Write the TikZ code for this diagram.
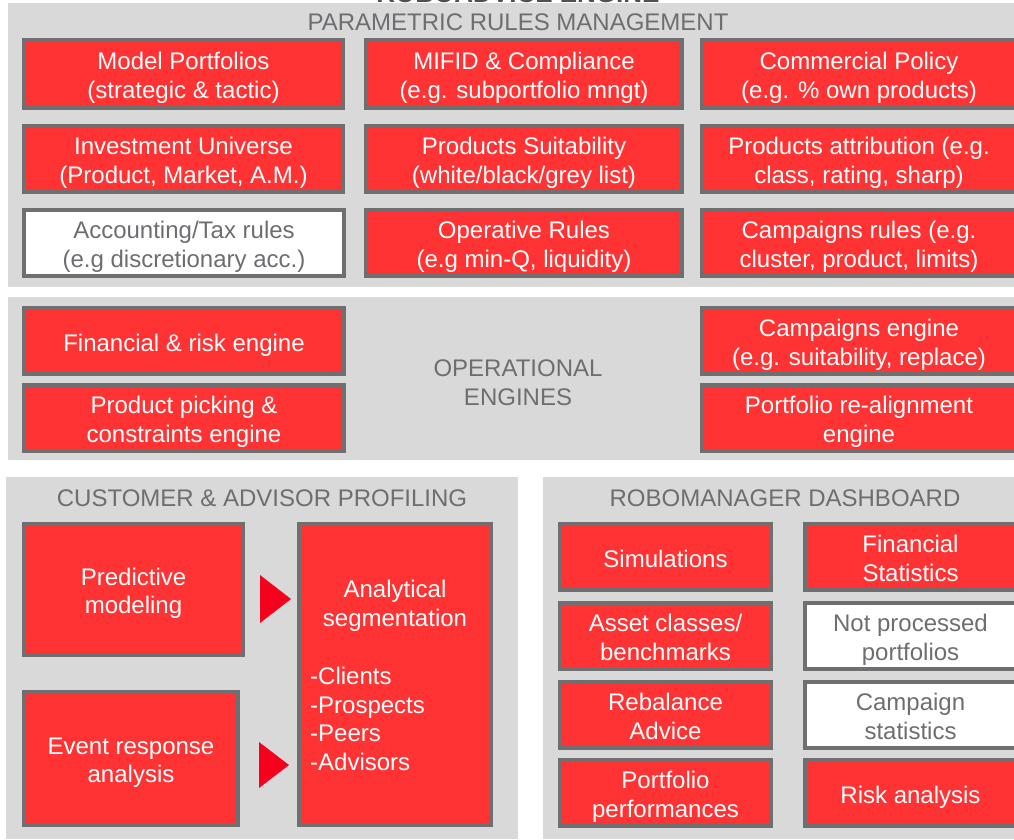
\documentclass[tikz,border=0pt]{standalone}
\usepackage{fontspec}
\setmainfont{Liberation Sans}
\definecolor{boxred}{HTML}{FF3333}
\definecolor{trired}{HTML}{F5001D}
\definecolor{bordergray}{HTML}{6D6F71}
\definecolor{panelgray}{HTML}{D9D9D9}
\definecolor{titlegray}{HTML}{6D6E71}
\definecolor{toptitle}{HTML}{505050}
\newcommand\mystartst{\rule[-5.5pt]{0pt}{31pt}}
\newcommand\myendst{\rule[-5.5pt]{0pt}{5.5pt}}
\tikzset{
  basebox/.style={draw=bordergray, line width=4pt, inner sep=0pt, align=center,
    font=\fontsize{24}{28.5}\selectfont},
  redbox/.style={basebox, fill=boxred, text=white},
  whitebox/.style={basebox, fill=white, text=titlegray},
  emptybox/.style={draw=bordergray, line width=4pt, inner sep=0pt, fill=boxred},
  paneltitle/.style={inner sep=0pt, text=titlegray, align=center, font=\fontsize{24}{28.5}\selectfont},
  panel/.style={fill=panelgray},
  tri/.style={fill=trired}
}
\newcommand\mybox[7]{\node[#2, minimum width={#5-#3-4}, minimum height={#6-#4-4}] (#1) at ({(#3+#5)/2},{(#4+#6)/2}) {\mystartst#7\myendst};}
\begin{document}
\begin{tikzpicture}[x=1pt,y=-1pt]
\useasboundingbox (0,0) rectangle (1014,839);
\node[anchor=base, inner sep=0pt, text=toptitle, font=\fontsize{26}{30}\selectfont\bfseries] (top) at (518,2.5) {ROBOADVICE ENGINE};
% panels
\fill[panel] (8,3) rectangle (1014,287);
\fill[panel] (8,297) rectangle (1014,460);
\fill[panel] (6,477) rectangle (518,839);
\fill[panel] (543,477) rectangle (1014,839);
% panel 1
\node[paneltitle] (t1) at (518,22) {PARAMETRIC RULES MANAGEMENT};
\mybox{mp}{redbox}{22}{38}{345}{110}{Model Portfolios\\(strategic \& tactic)}
\mybox{mifid}{redbox}{364}{38}{684}{110}{MIFID \& Compliance\\(e.g. subportfolio mngt)}
\mybox{comm}{redbox}{700}{38}{1018}{110}{Commercial Policy\\(e.g. \% own products)}
\mybox{iu}{redbox}{22}{124}{345}{194}{Investment Universe\\(Product, Market, A.M.)}
\mybox{ps}{redbox}{364}{124}{684}{194}{Products Suitability\\(white/black/grey list)}
\mybox{pa}{redbox}{700}{124}{1018}{194}{Products attribution (e.g.\\class, rating, sharp)}
\mybox{acc}{whitebox}{22}{208}{346}{278}{Accounting/Tax rules\\(e.g discretionary acc.)}
\mybox{op}{redbox}{364}{208}{684}{278}{Operative Rules\\(e.g min-Q, liquidity)}
\mybox{camp}{redbox}{700}{208}{1018}{278}{Campaigns rules (e.g.\\cluster, product, limits)}
% panel 2
\node[paneltitle] (t2) at (518,382.5) {OPERATIONAL\\ENGINES};
\mybox{fin}{redbox}{22}{306}{346}{376}{Financial \& risk engine}
\mybox{pp}{redbox}{22}{383}{346}{453}{Product picking \&\\constraints engine}
\mybox{ce}{redbox}{700}{306}{1018}{376}{Campaigns engine\\(e.g. suitability, replace)}
\mybox{pr}{redbox}{700}{383}{1018}{453}{Portfolio re-alignment\\engine}
% panel 3
\node[paneltitle] (t3) at (262,498.5) {CUSTOMER \& ADVISOR PROFILING};
\mybox{pm}{redbox}{22}{522}{245}{657}{Predictive\\modeling}
\mybox{er}{redbox}{22}{690}{240}{827}{Event response\\analysis}
\mybox{as}{emptybox}{297}{522}{493}{827}{}
\node[inner sep=0pt, text=white, align=center, font=\fontsize{24}{28.5}\selectfont] (ast) at (395,606) {Analytical\\segmentation};
\node[inner sep=0pt, text=white, align=left, anchor=west, font=\fontsize{24}{28.5}\selectfont] (asl) at (310,719) {-Clients\\-Prospects\\-Peers\\-Advisors};
\fill[tri] (260,575) -- (291,599) -- (260,623) -- cycle;
\fill[tri] (259,742) -- (289,765) -- (259,788) -- cycle;
% panel 4
\node[paneltitle] (t4) at (785,498.5) {ROBOMANAGER DASHBOARD};
\mybox{sim}{redbox}{558}{522}{773}{592}{Simulations}
\mybox{ac}{redbox}{558}{601}{773}{671}{Asset classes/\\benchmarks}
\mybox{rb}{redbox}{558}{680}{773}{750}{Rebalance\\Advice}
\mybox{ppf}{redbox}{558}{758}{773}{828}{Portfolio\\performances}
\mybox{fs}{redbox}{803}{522}{1018}{592}{Financial\\Statistics}
\mybox{np}{whitebox}{803}{601}{1018}{671}{Not processed\\portfolios}
\mybox{cs}{whitebox}{803}{680}{1018}{750}{Campaign\\statistics}
\mybox{ra}{redbox}{803}{758}{1018}{828}{Risk analysis}
\end{tikzpicture}
\end{document}
